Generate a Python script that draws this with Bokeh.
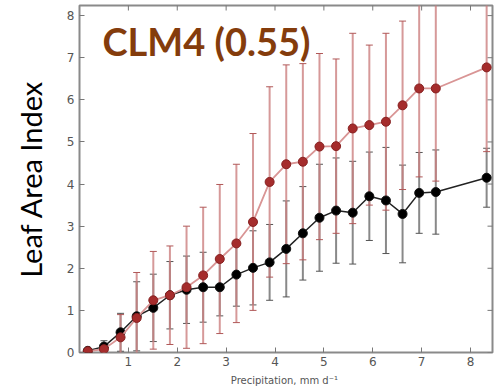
import math
from bokeh.plotting import figure
from bokeh.models import ColumnDataSource, Whisker, TeeHead, FixedTicker, Range1d, Label
from bokeh.embed import file_html
from bokeh.resources import INLINE

# ---- data ----
precip = [0.17, 0.5, 0.84, 1.17, 1.51, 1.85, 2.19, 2.53, 2.87, 3.21, 3.55, 3.89,
          4.23, 4.57, 4.91, 5.25, 5.59, 5.93, 6.27, 6.61, 6.95, 7.29, 8.33]
obs_lai = [0.04, 0.14, 0.48, 0.86, 1.06, 1.36, 1.49, 1.55, 1.55, 1.85, 2.01, 2.14,
           2.46, 2.83, 3.20, 3.37, 3.32, 3.71, 3.61, 3.29, 3.79, 3.81, 4.15]
obs_err = [0.03, 0.14, 0.45, 0.82, 0.80, 0.80, 0.80, 0.83, 0.68, 0.75, 0.88, 0.90,
           1.14, 1.11, 1.27, 1.25, 1.22, 1.05, 1.26, 1.16, 0.96, 1.00, 0.70]
clm_lai = [0.03, 0.08, 0.36, 0.82, 1.24, 1.36, 1.55, 1.83, 2.22, 2.59, 3.10, 4.05,
           4.47, 4.53, 4.89, 4.90, 5.32, 5.40, 5.48, 5.87, 6.27, 6.27, 6.77]
clm_err = [0.03, 0.10, 0.54, 1.08, 1.16, 1.17, 1.45, 1.62, 1.77, 1.88, 2.10, 2.26,
           2.36, 2.33, 2.21, 2.07, 2.26, 1.90, 2.10, 2.00, 2.10, 2.20, 2.00]
x_ticks = [1, 2, 3, 4, 5, 6, 7, 8]
y_ticks = [0, 1, 2, 3, 4, 5, 6, 7, 8]
title_text = "CLM4 (0.55)"
x_label = "Precipitation,  mm d\u207b\u00b9"
y_label = "Leaf Area Index"

X_END, Y_END = 8.45, 8.24

obs = ColumnDataSource(dict(x=precip, y=obs_lai,
                            lo=[v - e for v, e in zip(obs_lai, obs_err)],
                            hi=[v + e for v, e in zip(obs_lai, obs_err)]))
clm = ColumnDataSource(dict(x=precip, y=clm_lai,
                            lo=[v - e for v, e in zip(clm_lai, clm_err)],
                            hi=[v + e for v, e in zip(clm_lai, clm_err)]))

p = figure(width=496, height=391, output_backend="svg", toolbar_location=None,
           x_range=Range1d(0, X_END), y_range=Range1d(0, Y_END),
           min_border_left=79, min_border_right=4, min_border_top=5,
           min_border_bottom=39, background_fill_color="white",
           border_fill_color="white")
p.grid.visible = False
p.outline_line_color = "#8a8a8a"
p.outline_line_width = 2

tick_col = "#555555"
for ax in (p.xaxis[0], p.yaxis[0]):
    ax.axis_line_color = None
    ax.major_tick_in = 5
    ax.major_tick_out = 0
    ax.minor_tick_line_color = None
    ax.major_tick_line_color = "#777777"
    ax.major_label_text_color = tick_col
    ax.major_label_text_font = "DejaVu Sans"
    ax.major_label_text_font_size = "12px"
p.xaxis.ticker = FixedTicker(ticks=x_ticks)
p.yaxis.ticker = FixedTicker(ticks=y_ticks)
p.xaxis.major_label_standoff = 4
p.yaxis.major_label_standoff = 5

p.xaxis.axis_label = x_label
p.xaxis.axis_label_text_font = "DejaVu Sans"
p.xaxis.axis_label_text_font_size = "10px"
p.xaxis.axis_label_text_font_style = "normal"
p.xaxis.axis_label_text_color = "#555555"
p.xaxis.axis_label_standoff = 6

p.yaxis.axis_label = y_label
p.yaxis.axis_label_text_font = "Lato"
p.yaxis.axis_label_text_font_size = "29px"
p.yaxis.axis_label_text_font_style = "normal"
p.yaxis.axis_label_text_color = "black"
p.yaxis.axis_label_standoff = 16

# inside ticks on the top and right edges (half of each dash is clipped by the frame)
p.scatter(x=x_ticks, y=[Y_END] * len(x_ticks), marker="dash", size=10,
          angle=math.pi / 2, line_color="#777777", line_width=1)
p.scatter(x=[X_END] * len(y_ticks), y=y_ticks, marker="dash", size=10,
          line_color="#777777", line_width=1)

# error bars
p.add_layout(Whisker(source=obs, base="x", lower="lo", upper="hi",
                     line_color="#747474", line_width=2, line_alpha=0.85,
                     upper_head=TeeHead(size=7, line_color="#555555", line_width=1),
                     lower_head=TeeHead(size=7, line_color="#555555", line_width=1)))
p.add_layout(Whisker(source=clm, base="x", lower="lo", upper="hi",
                     line_color="#cc7f7f", line_width=2, line_alpha=0.8,
                     upper_head=TeeHead(size=7, line_color="#b05858", line_width=1),
                     lower_head=TeeHead(size=7, line_color="#b05858", line_width=1)))

# series
p.line("x", "y", source=obs, line_color="#222222", line_width=1.5)
p.scatter("x", "y", source=obs, size=9, fill_color="black", line_color="#111111")
p.line("x", "y", source=clm, line_color="#d99595", line_width=1.8)
p.scatter("x", "y", source=clm, size=9, fill_color="#a52c2c", line_color="#862020")

p.add_layout(Label(x=0.47, y=7.4, text=title_text, text_font="Lato",
                   text_font_style="bold", text_font_size="38px",
                   text_color="#843c0c", text_baseline="alphabetic"))

open("out.html", "w").write(file_html(p, INLINE))
